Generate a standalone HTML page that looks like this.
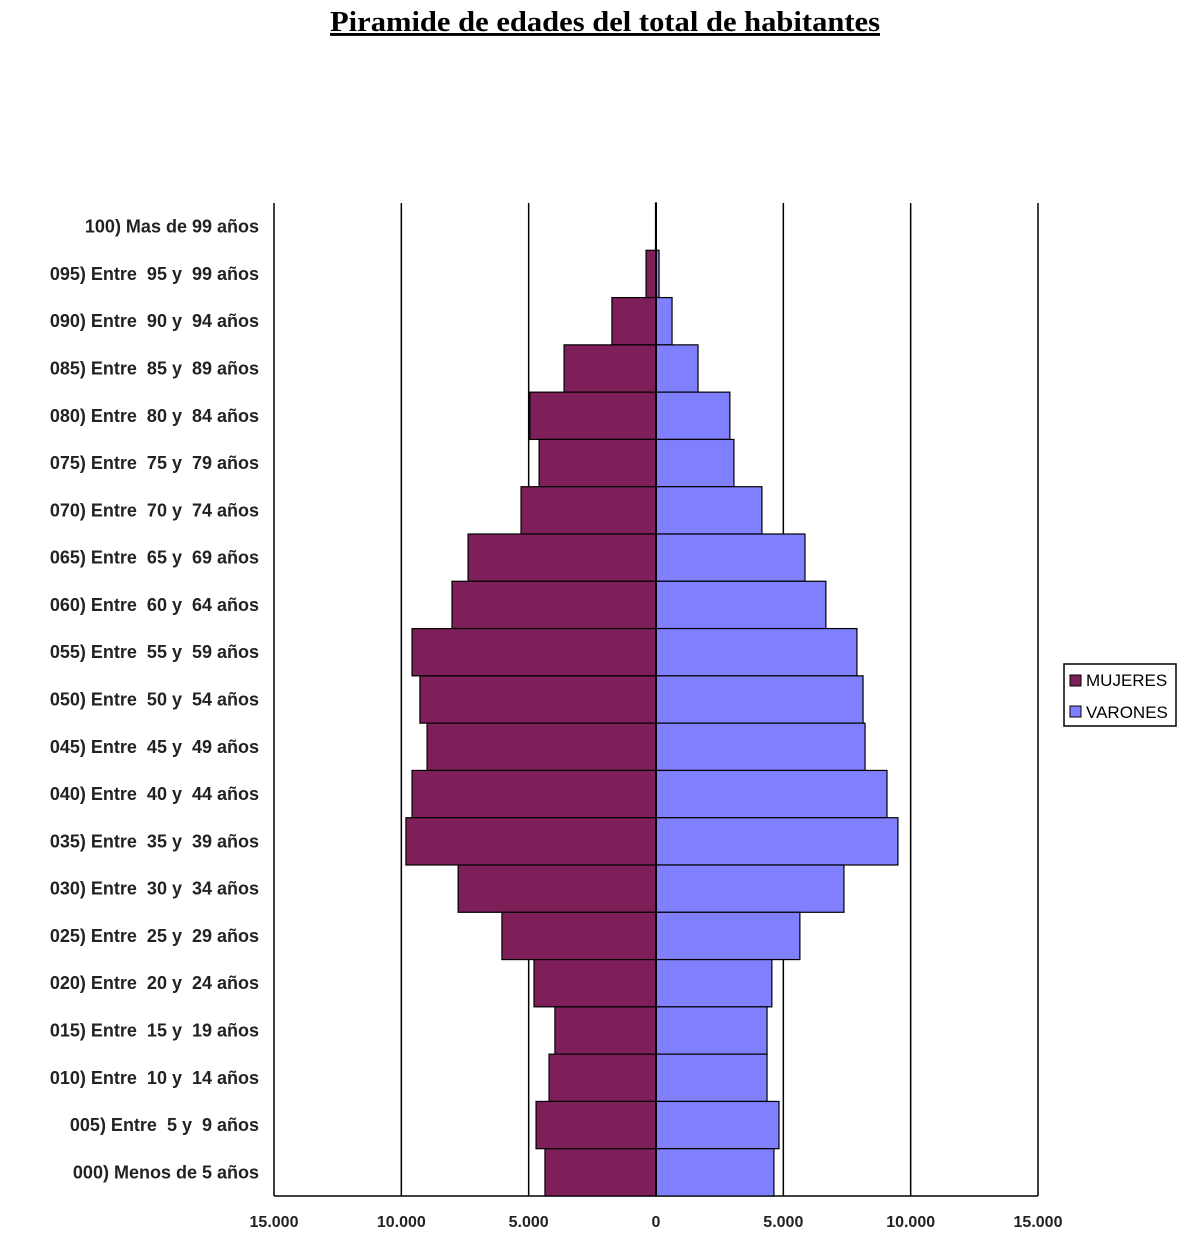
<!DOCTYPE html>
<html><head><meta charset="utf-8"><style>
body{margin:0;background:#fff;width:1200px;height:1258px;overflow:hidden}
svg{display:block}
text{font-family:"Liberation Sans",Arial,sans-serif}
</style></head><body>
<svg id="chart" width="1200" height="1258">
<text x="605" y="31" text-anchor="middle" font-weight="bold" font-size="29" text-decoration="underline" style="font-family:'Liberation Serif',serif" textLength="550" lengthAdjust="spacingAndGlyphs">Piramide de edades del total de habitantes</text>
<g id="grid"></g><g id="bars"></g><g id="labels"></g><g id="ticks"></g>
<g>
<rect x="1064" y="664" width="112" height="62" fill="#fff" stroke="#000" stroke-width="1.5"/>
<rect x="1070" y="675" width="11" height="11" fill="#7f1f5a" stroke="#000"/>
<text x="1086" y="686" font-size="17">MUJERES</text>
<rect x="1070" y="706" width="11" height="11" fill="#8080ff" stroke="#000"/>
<text x="1086" y="718" font-size="17">VARONES</text>
</g>
</svg>
<script>
const categories=["100) Mas de 99 años","095) Entre  95 y  99 años","090) Entre  90 y  94 años","085) Entre  85 y  89 años","080) Entre  80 y  84 años","075) Entre  75 y  79 años","070) Entre  70 y  74 años","065) Entre  65 y  69 años","060) Entre  60 y  64 años","055) Entre  55 y  59 años","050) Entre  50 y  54 años","045) Entre  45 y  49 años","040) Entre  40 y  44 años","035) Entre  35 y  39 años","030) Entre  30 y  34 años","025) Entre  25 y  29 años","020) Entre  20 y  24 años","015) Entre  15 y  19 años","010) Entre  10 y  14 años","005) Entre  5 y  9 años","000) Menos de 5 años"];
const mujeres=[20,390,1730,3610,4950,4590,5300,7380,8010,9580,9270,8990,9580,9820,7770,6050,4790,3970,4200,4710,4360];
const varones=[10,120,630,1650,2900,3060,4160,5850,6670,7890,8130,8210,9070,9500,7380,5650,4550,4360,4360,4830,4630];
const tickValues=[-15000,-10000,-5000,0,5000,10000,15000];
const tickLabels=["15.000","10.000","5.000","0","5.000","10.000","15.000"];
const NS="http://www.w3.org/2000/svg";
const L=274,R=1038,T=203,B=1196;
const x=v=>L+(v+15000)/30000*(R-L);
const rowH=(B-T)/categories.length;
const y=i=>T+i*rowH;
function mk(tag,attrs,parent){const e=document.createElementNS(NS,tag);for(const k in attrs)e.setAttribute(k,attrs[k]);document.getElementById(parent).appendChild(e);return e;}
tickValues.forEach((v,i)=>{
 if(v!==0){const g=mk('line',{x1:x(v),x2:x(v),y1:T,y2:B,stroke:'#000','stroke-width':1.5},'grid');
 
 }
 const t=mk('text',{x:x(v),y:B+31,'text-anchor':'middle','font-size':16,'font-weight':'bold',fill:'#222'},'ticks');
 t.textContent=tickLabels[i];
 
 
});
const base=mk('line',{x1:L,x2:R,y1:B,y2:B,stroke:'#000','stroke-width':1.5},'grid');


categories.forEach((c,i)=>{
 const m=mk('rect',{x:x(-mujeres[i]),y:y(i),width:x(0)-x(-mujeres[i]),height:rowH,fill:'#7f1f5a',stroke:'#000','stroke-width':1.2},'bars');
 
 
 const v=mk('rect',{x:x(0),y:y(i),width:x(varones[i])-x(0),height:rowH,fill:'#8080ff',stroke:'#000','stroke-width':1.2},'bars');
 
 
 const t=mk('text',{x:259,y:y(i)+rowH/2+6,'text-anchor':'end','font-size':18,'font-weight':'bold',fill:'#222'},'labels');
 t.style.whiteSpace='pre';
 t.textContent=c;
 
 
});
const z=mk('line',{x1:x(0),x2:x(0),y1:T,y2:B,stroke:'#000','stroke-width':2},'bars');


</script>
</body></html>
